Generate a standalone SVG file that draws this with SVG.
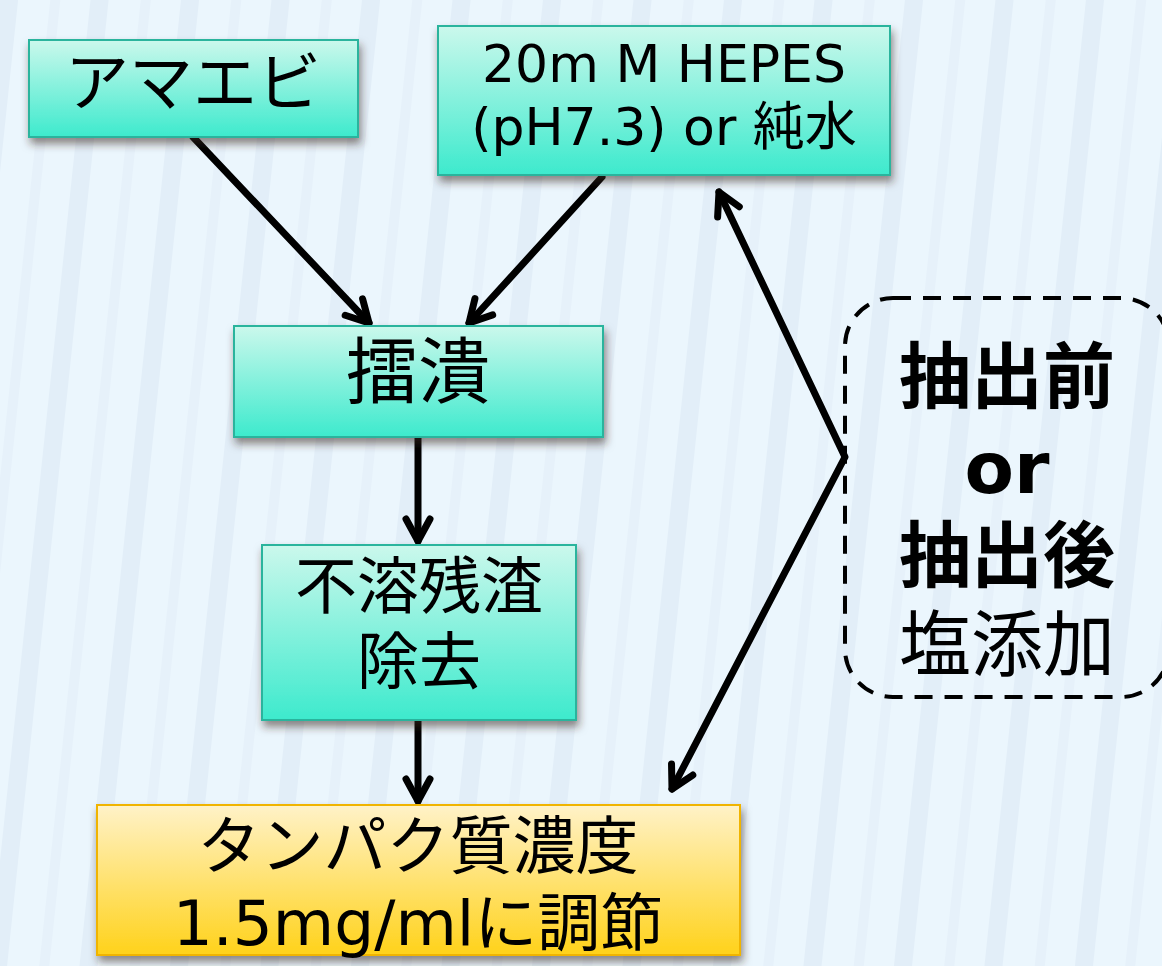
<svg xmlns="http://www.w3.org/2000/svg" width="1162" height="966" viewBox="0 0 1162 966">
<style>
.t{font-family:"DejaVu Sans","Noto Sans CJK JP",sans-serif;fill:#000;text-anchor:middle}
.b{font-weight:bold}
.box{stroke-width:2;filter:url(#sh)}
.teal{fill:url(#gT);stroke:#2bb49d}
.gold{fill:url(#gY);stroke:#f0b400}
.ar{fill:none;stroke:#000;stroke-width:7;stroke-linecap:round;stroke-linejoin:round}
</style>
<defs>
<linearGradient id="gT" x1="0" y1="0" x2="0" y2="1">
<stop offset="0" stop-color="#cbf8ec"/><stop offset="1" stop-color="#3deacd"/>
</linearGradient>
<linearGradient id="gY" x1="0" y1="0" x2="0" y2="1">
<stop offset="0" stop-color="#fff2c8"/><stop offset="1" stop-color="#ffd21a"/>
</linearGradient>
<pattern id="bg" width="90" height="90" patternUnits="userSpaceOnUse" patternTransform="rotate(6)">
<rect width="90" height="90" fill="#ebf6fd"/>
<rect x="0" width="18" height="90" fill="#e2eef8"/>
<rect x="50" width="10" height="90" fill="#e6f1fa"/>
</pattern>
<filter id="sh" x="-10%" y="-10%" width="120%" height="130%">
<feDropShadow dx="2" dy="6" stdDeviation="4" flood-color="#3a2a20" flood-opacity="0.55"/>
</filter>
<marker id="ah" viewBox="-30 -20 40 40" markerWidth="40" markerHeight="40" refX="0" refY="0" markerUnits="userSpaceOnUse" orient="auto-start-reverse">
<path d="M-22,-12 L0,0 L-22,12" fill="none" stroke="#000" stroke-width="7" stroke-linecap="round" stroke-linejoin="round"/>
</marker>
</defs>
<rect width="1162" height="966" fill="url(#bg)"/>

<g id="connectors">
<line class="ar" x1="193" y1="137" x2="369" y2="323" marker-end="url(#ah)"/>
<line class="ar" x1="602" y1="177" x2="469" y2="323" marker-end="url(#ah)"/>
<line class="ar" x1="418" y1="437" x2="418" y2="541" marker-end="url(#ah)"/>
<line class="ar" x1="418" y1="720" x2="418" y2="801" marker-end="url(#ah)"/>
<polyline class="ar" points="719,192 845,457 672,789" marker-start="url(#ah)" marker-end="url(#ah)"/>
</g>

<g id="n-amaebi">
<rect class="box teal" x="29" y="40" width="329" height="97"/>
<text class="t" x="193" y="105" font-size="64">アマエビ</text>
</g>
<g id="n-hepes">
<rect class="box teal" x="438" y="26" width="452" height="149"/>
<text class="t" x="664" y="82" font-size="52">20m M HEPES</text>
<text class="t" x="664" y="145" font-size="52">(pH7.3) or 純水</text>
</g>
<g id="n-raikai">
<rect class="box teal" x="234" y="326" width="369" height="111"/>
<text class="t" x="418" y="397" font-size="72">擂潰</text>
</g>
<g id="n-jokyo">
<rect class="box teal" x="262" y="545" width="314" height="175"/>
<text class="t" x="419" y="609" font-size="62">不溶残渣</text>
<text class="t" x="419" y="684" font-size="62">除去</text>
</g>
<g id="n-chosei">
<rect class="box gold" x="97" y="805" width="643" height="150"/>
<text class="t" x="418" y="868" font-size="63">タンパク質濃度</text>
<text class="t" x="418" y="945" font-size="63">1.5mg/mlに調節</text>
</g>
<g id="n-salt">
<rect x="845" y="298" width="324" height="399" rx="48" ry="48" fill="none" stroke="#000" stroke-width="4" stroke-dasharray="18 12"/>
<text class="t b" x="1007" y="402" font-size="72">抽出前</text>
<text class="t b" x="1007" y="493" font-size="72">or</text>
<text class="t b" x="1007" y="581" font-size="72">抽出後</text>
<text class="t" x="1007" y="670" font-size="72">塩添加</text>
</g>
</svg>
